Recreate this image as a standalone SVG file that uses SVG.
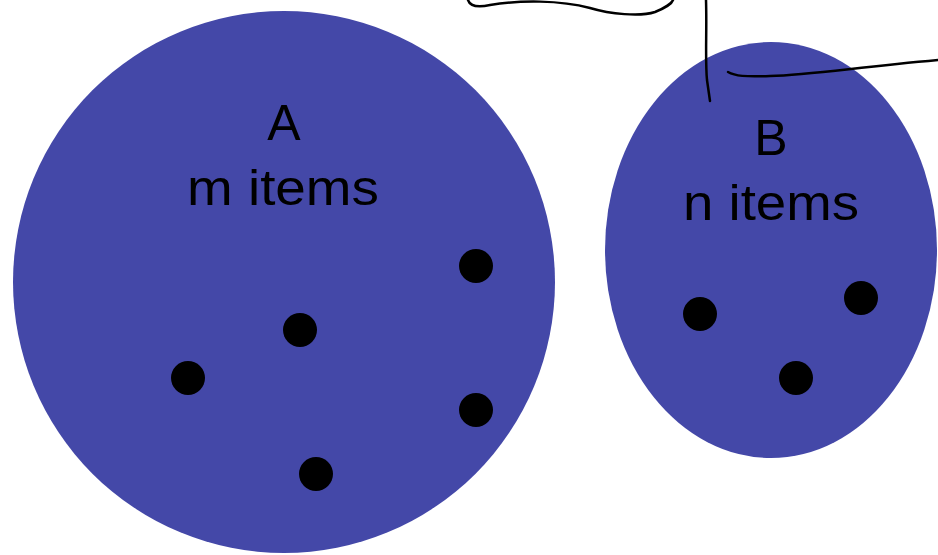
<svg xmlns="http://www.w3.org/2000/svg" width="938" height="555" viewBox="0 0 938 555">
<style>
.set{fill:#4448A8}
.dot{fill:#000}
.lbl{font-family:"Comic Sans MS","Liberation Sans","DejaVu Sans",sans-serif;font-size:50px;fill:#000;text-anchor:middle}
.ln{fill:none;stroke:#000;stroke-width:2.5;stroke-linecap:round}
</style>
<rect width="938" height="555" fill="#fff"/>
<g id="setA">
<ellipse class="set" cx="284" cy="282" rx="271" ry="271"/>
<text class="lbl" x="284" y="140">A</text>
<text class="lbl" x="283" y="205" textLength="192" lengthAdjust="spacingAndGlyphs">m items</text>
<circle class="dot" cx="476" cy="266" r="17"/>
<circle class="dot" cx="300" cy="330" r="17"/>
<circle class="dot" cx="188" cy="378" r="17"/>
<circle class="dot" cx="476" cy="410" r="17"/>
<circle class="dot" cx="316" cy="474" r="17"/>
</g>
<g id="setB">
<ellipse class="set" cx="771" cy="250" rx="166" ry="208"/>
<text class="lbl" x="771" y="155">B</text>
<text class="lbl" x="771" y="220" textLength="176" lengthAdjust="spacingAndGlyphs">n items</text>
<circle class="dot" cx="700" cy="314" r="17"/>
<circle class="dot" cx="861" cy="298" r="17"/>
<circle class="dot" cx="796" cy="378" r="17"/>
</g>
<g id="connectors">
<path class="ln" d="M468,0 C470,6 476,8 490,5 C520,0 560,0 590,8 C610,14 640,17 655,12 C665,8 672,3 673,0"/>
<path class="ln" d="M706,0 C707,30 705,60 707,80 L710,101"/>
<path class="ln" d="M728,72 C735,76 745,77 770,76 C810,75 850,68 938,60"/>
</g>
</svg>
